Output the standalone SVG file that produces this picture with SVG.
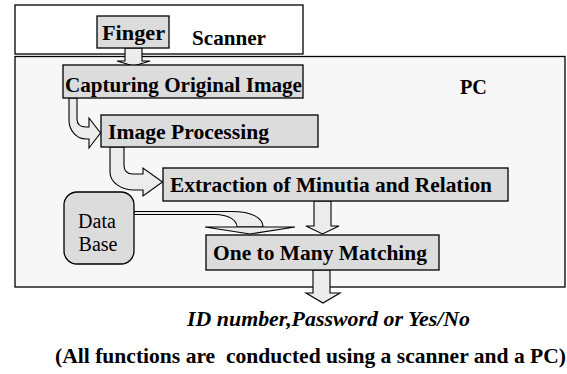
<svg xmlns="http://www.w3.org/2000/svg" width="567" height="374" viewBox="0 0 567 374">
  <style>
    .frame { stroke: #000; stroke-width: 1.3; }
    .box { fill: #dcdcdc; stroke: #000; stroke-width: 1.3; }
    .arrow { fill: #ececec; stroke: #000; stroke-width: 1.1; stroke-linejoin: miter; }
    .t { font-family: Liberation Serif, Times New Roman, Tinos, Noto Serif, FreeSerif, DejaVu Serif, serif; fill: #000; }
    .b { font-weight: 700; font-size: 21px; }
    .r { font-size: 20px; }
    .bi { font-weight: 700; font-style: italic; font-size: 20px; }
  </style>
  <rect width="567" height="374" fill="#fff"/>

  <!-- enclosing frames -->
  <g id="scanner">
    <rect class="frame" x="15" y="5" width="288" height="49" fill="#fff"/>
    <text class="t b" x="192" y="45" textLength="74" lengthAdjust="spacingAndGlyphs">Scanner</text>
  </g>
  <g id="pc">
    <rect class="frame" x="15" y="56.5" width="550" height="230.5" fill="#f7f7f7"/>
    <text class="t b" x="460" y="94" textLength="27" lengthAdjust="spacingAndGlyphs">PC</text>
  </g>

  <!-- connectors -->
  <g id="connectors">
    <path class="arrow" d="M125,48 L125,61 L117,61 L133.5,66 L150,61 L142,61 L142,48 Z"/>
    <path class="arrow" d="M69,98 L69,120 C69,131 77,139 86,139 L89,139 L89,148 L100.5,133 L89,118 L89,127 L86,127 C80,127 77,124 77,119 L77,98 Z"/>
    <path class="arrow" d="M110,147 L110,172 C110,183 122,190 134,190 L143,190 L143,196 L162.5,182 L143,168 L143,174 L133,174 C127,174 124,171 124,165 L124,147 Z"/>
    <path class="arrow" stroke-width="0.9" d="M134,211.5 L232,211.5 C252,211.5 263,218 263,227 L237,227 C237,220 228,214.5 215,214.5 L134,214.5 Z"/>
    <path class="arrow" d="M205,227 L295,227 L250,234 Z"/>
    <path class="arrow" d="M314,201 L314,226 L306,226 L322.5,234 L339,226 L331,226 L331,201 Z"/>
    <path class="arrow" d="M313,270 L313,293 L306,293 L323,303 L340,293 L330,293 L330,270 Z"/>
  </g>

  <!-- process nodes -->
  <g id="finger">
    <rect class="box" x="97" y="16" width="72" height="32"/>
    <text class="t b" x="102" y="40" textLength="63" lengthAdjust="spacingAndGlyphs">Finger</text>
  </g>
  <g id="capture">
    <rect class="box" x="63" y="65" width="240" height="33"/>
    <text class="t b" x="65" y="92" textLength="237" lengthAdjust="spacingAndGlyphs">Capturing Original Image</text>
  </g>
  <g id="processing">
    <rect class="box" x="101" y="115" width="217" height="32"/>
    <text class="t b" x="108" y="139" textLength="161" lengthAdjust="spacingAndGlyphs">Image Processing</text>
  </g>
  <g id="extraction">
    <rect class="box" x="163" y="168" width="345" height="33"/>
    <text class="t b" x="170" y="192" textLength="322" lengthAdjust="spacingAndGlyphs">Extraction of Minutia and Relation</text>
  </g>
  <g id="database">
    <rect class="box" x="64" y="192" width="70" height="72" rx="13" ry="13"/>
    <text class="t r" x="97" y="228" text-anchor="middle">Data</text>
    <text class="t r" x="98" y="251" text-anchor="middle">Base</text>
  </g>
  <g id="matching">
    <rect class="box" x="206" y="235" width="233" height="35" stroke-width="2.4"/>
    <text class="t b" x="213" y="260" textLength="214" lengthAdjust="spacingAndGlyphs">One to Many Matching</text>
  </g>

  <!-- output and footnote -->
  <g id="output">
    <text class="t bi" x="187" y="326" textLength="283" lengthAdjust="spacingAndGlyphs">ID number,Password or Yes/No</text>
  </g>
  <g id="note">
    <text class="t b" x="55" y="363" font-size="20" textLength="511" lengthAdjust="spacingAndGlyphs" xml:space="preserve">(All functions are  conducted using a scanner and a PC)</text>
  </g>
</svg>
